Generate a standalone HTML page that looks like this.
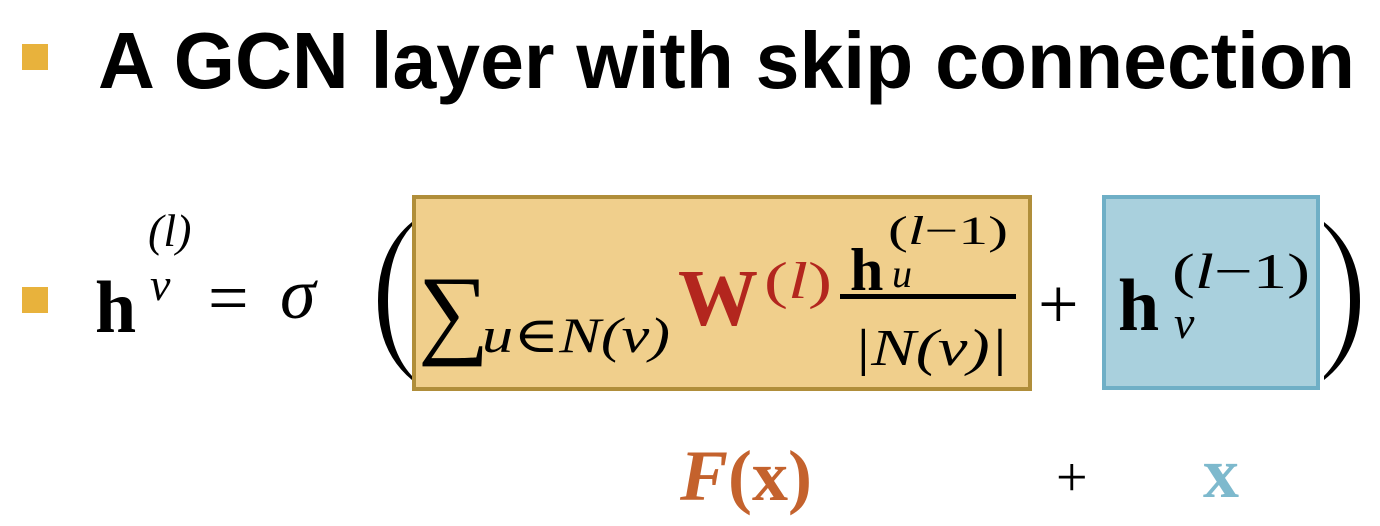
<!DOCTYPE html>
<html><head><meta charset="utf-8"><style>
html,body{margin:0;padding:0;background:#fff;}
svg{display:block;}
.m{font-family:"Liberation Serif","DejaVu Serif",serif;}
</style></head><body>
<svg width="1380" height="526" viewBox="0 0 1380 526">
<rect x="22" y="44" width="26" height="26" fill="#E8B23C"/>
<text x="98" y="88" font-family="Liberation Sans, sans-serif" font-weight="bold" font-size="80" textLength="1257" lengthAdjust="spacingAndGlyphs" fill="#000">A GCN layer with skip connection</text>

<rect x="22" y="287" width="26" height="26" fill="#E8B23C"/>
<g class="m">
<text x="95" y="332" font-size="74" font-weight="bold">h</text>
<text x="148" y="246" font-size="46" font-style="italic">(<tspan>l</tspan>)</text>
<text x="150" y="300" font-size="46" font-style="italic">v</text>
<text x="208" y="322" font-size="72">=</text>
<text x="280" y="318" font-size="72" font-style="italic">σ</text>
<path d="M412,222 Q378,250 378,301 Q378,352 412,380 L412,376 Q388,350 388,301 Q388,252 412,226 Z" fill="#000"/>

<rect x="414" y="197" width="616" height="192" fill="#F0CF8C" stroke="#B08E3A" stroke-width="4"/>
<text x="418" y="345" font-size="100">∑</text>
<text x="482" y="352" font-size="50" font-style="italic" textLength="188" lengthAdjust="spacingAndGlyphs">u∈N(v)</text>
<text x="678" y="325" font-size="80" font-weight="bold" fill="#B3261E">W</text>
<text x="764" y="298" font-size="52" fill="#B3261E" textLength="68" lengthAdjust="spacingAndGlyphs">(<tspan font-style="italic">l</tspan>)</text>
<text x="850" y="290" font-size="60" font-weight="bold">h</text>
<text x="888" y="244" font-size="40" textLength="120" lengthAdjust="spacingAndGlyphs">(<tspan font-style="italic">l</tspan>−1)</text>
<text x="892" y="287" font-size="40" font-style="italic">u</text>
<rect x="840" y="294" width="176" height="5" fill="#000"/>
<text x="853" y="365" font-size="52" font-style="italic" textLength="155" lengthAdjust="spacingAndGlyphs">|N(v)|</text>

<text x="1038" y="328" font-size="72">+</text>
<rect x="1104" y="197" width="214" height="191" fill="#A9D0DD" stroke="#6FAFC6" stroke-width="4"/>
<text x="1118" y="330" font-size="74" font-weight="bold">h</text>
<text x="1172" y="288" font-size="50" textLength="138" lengthAdjust="spacingAndGlyphs">(<tspan font-style="italic">l</tspan>−1)</text>
<text x="1174" y="338" font-size="46" font-style="italic">v</text>
<path d="M1324,222 Q1360,250 1360,301 Q1360,352 1324,380 L1324,376 Q1350,350 1350,301 Q1350,252 1324,226 Z" fill="#000"/>
</g>

<text x="680" y="500" class="m" font-size="72" font-weight="bold" fill="#C4622D"><tspan font-style="italic">F</tspan>(x)</text>
<text x="1056" y="496" class="m" font-size="56" fill="#000">+</text>
<text x="1203" y="497" class="m" font-size="72" font-weight="bold" fill="#7DB9CD">x</text>
</svg>
</body></html>
